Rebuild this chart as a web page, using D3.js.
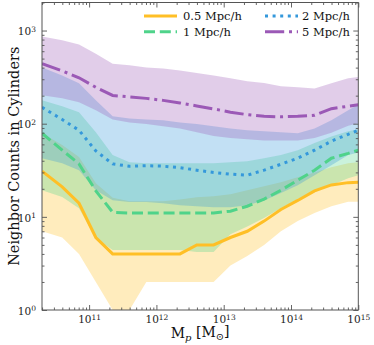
<!DOCTYPE html>
<html>
<head>
<meta charset="utf-8">
<script src="https://cdn.jsdelivr.net/npm/d3@7"></script>
<style>
  body { margin: 0; background: #fff; }
  svg { display: block; font-family: "DejaVu Serif", serif; }
</style>
</head>
<body>
<div id="chart"></div>
<script>
'use strict';

// log10 of halo mass, one entry per bin
const logMass = [10.3, 10.6, 10.85, 11.1, 11.35, 11.6, 11.85, 12.1, 12.35, 12.6,
                 12.85, 13.1, 13.35, 13.6, 13.85, 14.1, 14.35, 14.6, 14.85, 15.0];

const labels = ['0.5 Mpc/h', '1 Mpc/h', '2 Mpc/h', '5 Mpc/h'];

const med05 = [31, 21, 14, 6, 4, 4, 4, 4, 4, 5, 5, 6, 7, 9, 12, 15, 19, 22, 23.3, 23.5];
const lo05  = [7, 6, 4, 2, 1, 1, 2, 2, 2, 2, 2, 3, 3.8, 5, 7, 9, 11, 13, 14.5, 14.5];
const hi05  = [79, 59, 44, 23, 16, 14.7, 14.7, 14.7, 15.4, 16.2, 16.6, 17.5, 19.3, 21.3, 23.5, 26.6, 30, 34, 37.6, 38.6];

const med1 = [79, 52, 37, 19, 11.2, 11, 11, 11, 11, 11, 11, 11.5, 13, 15.5, 19.3, 24.7, 31.7, 42.6, 48, 52];
const lo1  = [19.3, 16.3, 12.4, 5.9, 4.4, 4.4, 4.4, 4.4, 4.4, 4.2, 4.2, 6.5, 7.9, 9.7, 12.4, 15.5, 18.4, 21.9, 26, 28];
const hi1  = [178, 154, 133, 81, 46, 38.6, 37.6, 37.6, 37.6, 37.6, 37.6, 38.6, 39.5, 42.6, 46, 52, 62, 73, 83, 87];

const med2 = [150, 111, 85, 51, 37, 35, 35.4, 35, 33.7, 31.7, 30, 28.7, 28, 31.7, 36.7, 42.6, 51.9, 65, 77, 85];
const lo2  = [42.5, 37.6, 31.6, 19.3, 15.1, 14.4, 14.4, 14, 13.3, 13, 12.7, 12.7, 13.3, 15, 18, 21.9, 28, 35.8, 46, 49];
const hi2  = [402, 330, 271, 178, 120, 114, 111, 109, 103, 99, 94, 89, 85, 83, 81, 79, 89, 109, 139, 161];

const med5 = [441, 369, 311, 246, 201, 194, 187, 178, 167, 155, 144, 133, 125, 120, 118.6, 120, 123, 145, 154, 160];
const lo5  = [202, 187, 170, 139, 111, 103, 99, 94, 89, 81, 74, 70, 68, 66, 66, 66, 70, 80, 95, 101];
const hi5  = [865, 785, 710, 565, 440, 423, 402, 392, 373, 351, 330, 307, 285, 274, 252, 246, 238, 271, 307, 317];

const xTicks = [11, 12, 13, 14, 15];
const yTicks = [0, 1, 2, 3];

const series = [
    { label: labels[0], med: med05, lo: lo05, hi: hi05, color: '#ffbf26', dash: null },
    { label: labels[1], med: med1,  lo: lo1,  hi: hi1,  color: '#4fd38a', dash: '11,4.8' },
    { label: labels[2], med: med2,  lo: lo2,  hi: hi2,  color: '#3498db', dash: '3,4.6' },
    { label: labels[3], med: med5,  lo: lo5,  hi: hi5,  color: '#9b59b6', dash: '19.2,4.8,3,4.8' }
];

function buildChart() {
    const width = 374;
    const height = 345;

    const left = 42, right = 358.3, top = 2.5, bottom = 310;

    const svg = d3.select('#chart')
        .append('svg')
            .attr('width', width)
            .attr('height', height);

    const x = d3.scaleLog()
        .domain([Math.pow(10, 10.3), 1e15])
        .range([left, right]);

    const y = d3.scaleLog()
        .domain([1, 2000])
        .range([bottom, top]);

    svg.append('clipPath')
        .attr('id', 'plot-clip')
        .append('rect')
            .attr('x', left)
            .attr('y', top)
            .attr('width', right - left)
            .attr('height', bottom - top);

    const graph = svg.append('g').attr('clip-path', 'url(#plot-clip)');

    const pts = s => logMass.map((m, i) => ({ m: Math.pow(10, m), med: s.med[i], lo: s.lo[i], hi: s.hi[i] }));

    series.forEach(s => {
        graph.append('path')
            .datum(pts(s))
            .attr('fill', s.color)
            .attr('fill-opacity', 0.3)
            .attr('stroke', 'none')
            .attr('d', d3.area()
                .x(d => x(d.m))
                .y0(d => y(d.lo))
                .y1(d => y(d.hi))
            );
    });

    series.forEach(s => {
        graph.append('path')
            .datum(pts(s))
            .attr('fill', 'none')
            .attr('stroke', s.color)
            .attr('stroke-width', 3)
            .attr('stroke-dasharray', s.dash)
            .attr('d', d3.line()
                .x(d => x(d.m))
                .y(d => y(d.med))
            );
    });

    // axes, ticks pointing inward on all four sides
    const minors = (lo, hi) => {
        const out = [];
        for (let e = lo; e < hi; e++) {
            for (let k = 2; k < 10; k++) out.push(k * Math.pow(10, e));
        }
        return out;
    };
    const xMajor = xTicks.map(e => Math.pow(10, e));
    const yMajor = yTicks.map(e => Math.pow(10, e));
    const xMinor = minors(10, 15).filter(v => v >= x.domain()[0]);
    const yMinor = minors(0, 4).filter(v => v <= 2000);

    const axisColor = '#555';

    const addAxis = (axis, transform, values, size, labelled) => {
        const g = svg.append('g')
            .attr('transform', transform)
            .call(axis.tickValues(values).tickSize(-size).tickPadding(labelled ? 5 : 0)
                .tickFormat(labelled ? (d => d) : ''));
        g.select('.domain').remove();
        g.selectAll('line').attr('stroke', axisColor).attr('stroke-width', 0.9);
        return g;
    };

    const supLabel = (g, exps) => {
        g.selectAll('text').each(function(d, i) {
            const t = d3.select(this);
            t.text(null)
                .attr('fill', '#222')
                .attr('font-size', 10.5)
                .attr('font-family', '"DejaVu Serif", serif');
            t.append('tspan').text('10');
            t.append('tspan')
                .attr('dy', '-0.45em')
                .attr('font-size', 7.5)
                .text(exps[i]);
        });
    };

    const gx = addAxis(d3.axisBottom(x), `translate(0,${bottom})`, xMajor, 5, true);
    supLabel(gx, xTicks);
    gx.selectAll('text').attr('dy', '0.8em');
    addAxis(d3.axisBottom(x), `translate(0,${bottom})`, xMinor, 2.5, false);
    addAxis(d3.axisTop(x), `translate(0,${top})`, xMajor, 5, false);
    addAxis(d3.axisTop(x), `translate(0,${top})`, xMinor, 2.5, false);

    const gy = addAxis(d3.axisLeft(y), `translate(${left},0)`, yMajor, 5, true);
    supLabel(gy, yTicks);
    gy.selectAll('text').attr('dy', '0.4em').attr('x', -6);
    addAxis(d3.axisLeft(y), `translate(${left},0)`, yMinor, 2.5, false);
    addAxis(d3.axisRight(y), `translate(${right},0)`, yMajor, 5, false);
    addAxis(d3.axisRight(y), `translate(${right},0)`, yMinor, 2.5, false);

    svg.append('rect')
        .attr('x', left)
        .attr('y', top)
        .attr('width', right - left)
        .attr('height', bottom - top)
        .attr('fill', 'none')
        .attr('stroke', axisColor)
        .attr('stroke-width', 1);

    // axis titles
    const xTitle = svg.append('text')
        .attr('x', (left + right) / 2)
        .attr('y', 338)
        .attr('text-anchor', 'middle')
        .attr('font-size', 14)
        .attr('fill', '#111');
    xTitle.append('tspan').text('M');
    xTitle.append('tspan').attr('font-style', 'italic').attr('font-size', 10).attr('dy', '0.25em').text('p');
    xTitle.append('tspan').attr('dy', '-0.25em').text(' [M');
    xTitle.append('tspan').attr('font-size', 10).attr('dy', '0.25em').text('\u2299');
    xTitle.append('tspan').attr('dy', '-0.25em').text(']');

    svg.append('text')
        .attr('transform', `translate(19,${(top + bottom) / 2}) rotate(-90)`)
        .attr('text-anchor', 'middle')
        .attr('font-size', 14.5)
        .attr('fill', '#111')
        .text('Neighbor Counts in Cylinders');

    // legend, two columns
    const legendItem = svg.append('g')
        .selectAll('g')
        .data(series)
        .enter()
            .append('g')
            .attr('transform', (d, i) => `translate(${i < 2 ? 144 : 265}, ${i % 2 ? 31.7 : 16})`);

    legendItem.append('line')
        .attr('x1', 0)
        .attr('x2', 33)
        .attr('stroke', d => d.color)
        .attr('stroke-width', 3)
        .attr('stroke-dasharray', d => d.dash);

    legendItem.append('text')
        .attr('x', (d, i) => i < 2 ? 39 : 37)
        .attr('dy', '0.36em')
        .attr('font-size', 11.5)
        .attr('fill', '#111')
        .text(d => d.label);
}

window.addEventListener('DOMContentLoaded', () => {
    buildChart();
});
</script>
</body>
</html>
